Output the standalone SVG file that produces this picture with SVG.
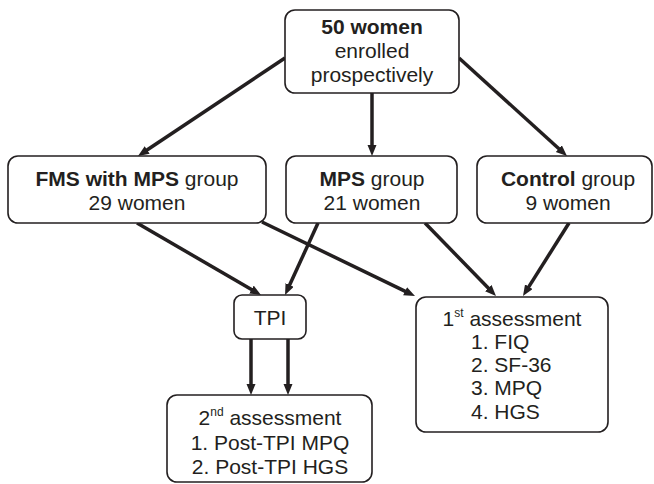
<svg xmlns="http://www.w3.org/2000/svg" width="654" height="484" viewBox="0 0 654 484">
<style>
.box{fill:#fff;stroke:#231f20;stroke-width:1.6}
text{font-family:"Liberation Sans",Arial,sans-serif;font-size:21px;fill:#231f20}
.c{text-anchor:middle}
.b{font-weight:bold}
.sup{font-size:12px}
.ln{stroke:#231f20;stroke-width:3.5;fill:none;marker-end:url(#ah)}
</style>
<defs>
<marker id="ah" markerUnits="userSpaceOnUse" markerWidth="12" markerHeight="10" refX="2" refY="4.5" orient="auto">
<path d="M0,0 L11,4.5 L0,9 z" fill="#231f20"/>
</marker>
</defs>
<rect width="654" height="484" fill="#fff"/>
<g id="connectors">
<line class="ln" x1="285" y1="58" x2="145.5" y2="151"/>
<line class="ln" x1="372" y1="93" x2="372" y2="147"/>
<line class="ln" x1="459" y1="58" x2="560.3" y2="150"/>
<line class="ln" x1="137" y1="223" x2="253.2" y2="290.5"/>
<line class="ln" x1="262" y1="222" x2="406.9" y2="292.1"/>
<line class="ln" x1="318" y1="223" x2="288.8" y2="286.8"/>
<line class="ln" x1="425" y1="223" x2="489.7" y2="289.5"/>
<line class="ln" x1="569" y1="223" x2="527.8" y2="288.4"/>
<line class="ln" x1="251" y1="339" x2="251" y2="386"/>
<line class="ln" x1="288" y1="339" x2="288" y2="386"/>
</g>
<g id="enrolled">
<rect class="box" x="285" y="10" width="174" height="83" rx="10"/>
<text class="c b" x="372" y="34">50 women</text>
<text class="c" x="372" y="58">enrolled</text>
<text class="c" x="372" y="82">prospectively</text>
</g>
<g id="fms">
<rect class="box" x="8" y="156" width="258" height="67" rx="10"/>
<text class="c" x="137" y="186"><tspan class="b">FMS with MPS</tspan> group</text>
<text class="c" x="137" y="210">29 women</text>
</g>
<g id="mps">
<rect class="box" x="286" y="156" width="171" height="67" rx="10"/>
<text class="c" x="372" y="186"><tspan class="b">MPS</tspan> group</text>
<text class="c" x="372" y="210">21 women</text>
</g>
<g id="control">
<rect class="box" x="477" y="156" width="175" height="67" rx="10"/>
<text class="c" x="568" y="186"><tspan class="b">Control</tspan> group</text>
<text class="c" x="568" y="210">9 women</text>
</g>
<g id="tpi">
<rect class="box" x="234" y="295" width="72" height="44" rx="8"/>
<text class="c" x="270" y="325">TPI</text>
</g>
<g id="first">
<rect class="box" x="416" y="297" width="192" height="135" rx="10"/>
<text class="c" x="512" y="326">1<tspan class="sup" dy="-9">st</tspan><tspan dy="9"> assessment</tspan></text>
<text x="471" y="349">1. FIQ</text>
<text x="471" y="372">2. SF-36</text>
<text x="471" y="395">3. MPQ</text>
<text x="471" y="419">4. HGS</text>
</g>
<g id="second">
<rect class="box" x="167" y="395" width="205" height="87" rx="10"/>
<text class="c" x="270" y="425">2<tspan class="sup" dy="-9">nd</tspan><tspan dy="9"> assessment</tspan></text>
<text class="c" x="270" y="450">1. Post-TPI MPQ</text>
<text class="c" x="270" y="474">2. Post-TPI HGS</text>
</g>
</svg>
